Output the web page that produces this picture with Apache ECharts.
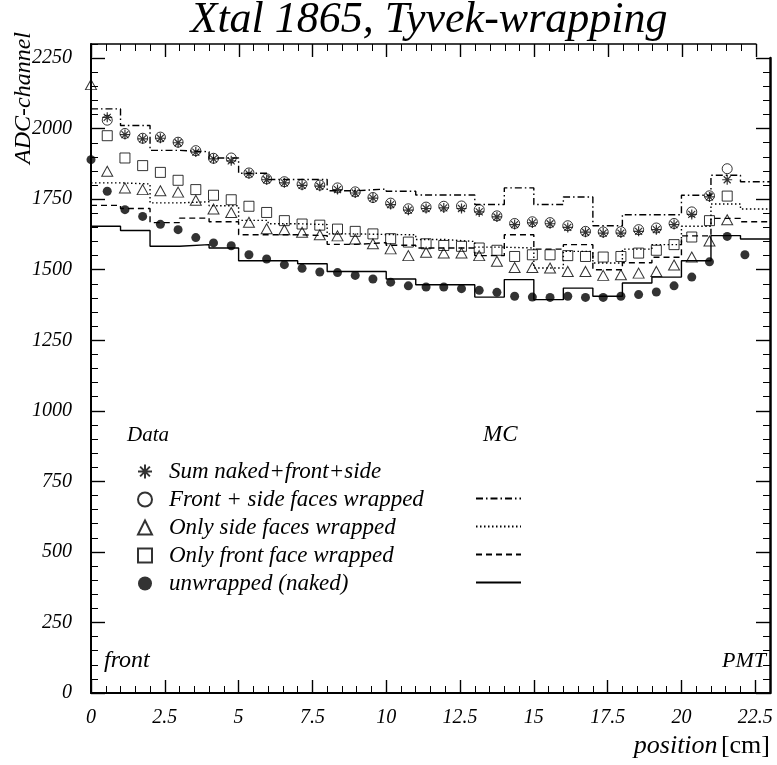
<!DOCTYPE html>
<html>
<head>
<meta charset="utf-8">
<script src="https://cdn.jsdelivr.net/npm/echarts@6/dist/echarts.min.js"></script>
<style>
  html, body { margin: 0; padding: 0; background: #fff; }
  #chart { width: 777px; height: 765px; }
</style>
</head>
<body>
<div id="chart"></div>
<script>
// measured positions along the crystal (cm)
const xPos = [0, 0.55, 1.15, 1.75, 2.35, 2.95, 3.55, 4.15, 4.75, 5.35, 5.95, 6.55, 7.15, 7.75,
  8.35, 8.95, 9.55, 10.15, 10.75, 11.35, 11.95, 12.55, 13.15, 13.75,
  14.35, 14.95, 15.55, 16.15, 16.75, 17.35, 17.95, 18.55, 19.15, 19.75,
  20.35, 20.95, 21.55, 22.15];

// data (ADC channel)
const sumData = [null, 2040, 1979, 1964, 1966, 1950, 1917, 1893, 1886, 1840, 1819, 1808, 1799, 1796,
  1784, 1772, 1754, 1731, 1711, 1717, 1719, 1717, 1705, 1687,
  1660, 1666, 1663, 1650, 1633, 1630, 1630, 1636, 1642, 1660,
  1696, 1758, 1819, null];
const frontSideData = [null, 2030, 1983, 1966, 1970, 1952, 1922, 1895, 1896, 1843, 1822, 1812, 1803, 1800,
  1790, 1776, 1756, 1736, 1716, 1722, 1725, 1726, 1713, 1691,
  1664, 1670, 1667, 1656, 1636, 1634, 1635, 1642, 1648, 1664,
  1705, 1762, 1858, null];
const sideData = [2156, 1849, 1790, 1784, 1780, 1775, 1746, 1715, 1703, 1668, 1645, 1642, 1633, 1624,
  1620, 1609, 1592, 1574, 1550, 1562, 1559, 1559, 1550, 1530,
  1508, 1508, 1506, 1494, 1494, 1480, 1482, 1488, 1494, 1517,
  1545, 1602, 1677, null];
const frontData = [null, 1975, 1896, 1869, 1845, 1817, 1784, 1764, 1748, 1725, 1703, 1674, 1662, 1658,
  1644, 1636, 1627, 1610, 1598, 1592, 1586, 1583, 1577, 1569,
  1547, 1553, 1553, 1550, 1547, 1545, 1547, 1559, 1569, 1589,
  1616, 1674, 1761, null];
const nakedData = [1890, 1778, 1713, 1689, 1661, 1642, 1614, 1595, 1585, 1553, 1538, 1518, 1505, 1492,
  1490, 1480, 1467, 1456, 1443, 1439, 1439, 1433, 1427, 1420,
  1406, 1403, 1402, 1406, 1402, 1402, 1406, 1412, 1421, 1443,
  1474, 1528, 1618, 1553];

// MC histograms, 1 cm bins
const binEdges = [0, 1, 2, 3, 4, 5, 6, 7, 8, 9, 10, 11, 12, 13, 14, 15, 16, 17, 18, 19, 20, 21, 22, 23];
const mcFrontSide = [2070, 2011, 1923, 1918, 1896, 1842, 1820, 1820, 1780, 1786, 1778, 1765, 1765, 1731,
  1790, 1731, 1758, 1656, 1695, 1695, 1764, 1835, 1812];
const mcSide = [1808, 1804, 1737, 1741, 1727, 1675, 1663, 1660, 1627, 1625, 1624, 1607, 1600, 1580,
  1577, 1506, 1565, 1524, 1573, 1589, 1654, 1733, 1715];
const mcFront = [1728, 1717, 1667, 1683, 1670, 1624, 1624, 1621, 1590, 1596, 1587, 1577, 1577, 1550,
  1624, 1573, 1589, 1500, 1525, 1544, 1620, 1682, 1670];
const mcNaked = [1654, 1639, 1583, 1589, 1577, 1532, 1532, 1521, 1494, 1494, 1467, 1447, 1447, 1403,
  1465, 1394, 1435, 1406, 1453, 1474, 1532, 1621, 1609];

const dataNames = ['Sum naked+front+side', 'Front + side faces wrapped', 'Only side faces wrapped',
  'Only front face wrapped', 'unwrapped (naked)'];
const mcNames = ['MC front + side', 'MC side', 'MC front', 'MC naked'];

const FONT = 'Liberation Serif';
const STAR = 'path://M5,0L5,10M0,5L10,5M1.5,1.5L8.5,8.5M8.5,1.5L1.5,8.5';

function points(vals) {
  return xPos.map((x, i) => vals[i] == null ? null : [x, vals[i]]).filter(p => p);
}
function steps(vals) {
  const p = vals.map((v, i) => [binEdges[i], v]);
  p.push([binEdges[vals.length], vals[vals.length - 1]]);
  return p;
}

const hollow = { color: 'rgba(0,0,0,0)', borderColor: '#000', borderWidth: 1 };
const lbl = { color: '#000', fontFamily: FONT, fontStyle: 'italic', fontSize: 20, formatter: v => String(v) };

// x axis: bottom one spans 0..23, the top one stops at 22.5 (own grid)
function xAx(grid, pos, max, interval, major, labels) {
  return {
    type: 'value', gridIndex: grid, position: pos, min: 0, max: max, interval: interval,
    axisLine: { show: major, onZero: false, lineStyle: { color: '#000', width: pos === 'bottom' ? 2 : 1.5 } },
    axisTick: { inside: true, length: major ? 13 : 7, lineStyle: { color: '#000', width: major ? 1.4 : 1 } },
    axisLabel: labels ? Object.assign({ showMaxLabel: false, margin: 15 }, lbl) : { show: false },
    splitLine: { show: false }
  };
}
// y axis: left one spans 0..2300, the right one stops at 2250 (own grid)
function yAx(grid, pos, max, interval, major, labels) {
  return {
    type: 'value', gridIndex: grid, position: pos, min: 0, max: max, interval: interval,
    axisLine: { show: major, onZero: false, lineStyle: { color: '#000', width: pos === 'left' ? 2 : 2.5 } },
    axisTick: { inside: true, length: major ? 14 : 7, lineStyle: { color: '#000', width: major ? 1.4 : 1 } },
    axisLabel: labels ? Object.assign({ showMaxLabel: false, margin: 19 }, lbl) : { show: false },
    splitLine: { show: false }
  };
}
const hiddenX = g => ({ type: 'value', gridIndex: g, min: 0, max: 23, show: false });
const hiddenY = g => ({ type: 'value', gridIndex: g, min: 0, max: 2300, show: false });

function mcLine(name, vals, type) {
  return {
    name: name, type: 'line', step: 'end', symbol: 'none', data: steps(vals),
    lineStyle: { color: '#000', width: 1.4, type: type }, itemStyle: { color: '#000' }
  };
}

const legendText = { color: '#000', fontFamily: FONT, fontStyle: 'italic', fontSize: 23 };

const chart = echarts.init(document.getElementById('chart'), null, { renderer: 'canvas' });
chart.setOption({
  animation: false,
  backgroundColor: '#fff',
  title: {
    text: 'Xtal 1865, Tyvek-wrapping', left: 424, top: -7, textAlign: 'center',
    textStyle: { fontFamily: FONT, fontStyle: 'italic', fontWeight: 'normal', fontSize: 44, color: '#000' }
  },
  grid: [
    { left: 91, right: 7, top: 44, bottom: 72 },
    { left: 91, right: 21, top: 44, bottom: 72 },
    { left: 91, right: 7, top: 58, bottom: 72 }
  ],
  xAxis: [
    xAx(0, 'bottom', 23, 2.5, true, true), xAx(0, 'bottom', 23, 0.5, false, false),
    xAx(1, 'top', 22.5, 2.5, true, false), xAx(1, 'top', 22.5, 0.5, false, false),
    hiddenX(2)
  ],
  yAxis: [
    yAx(0, 'left', 2300, 250, true, true), yAx(0, 'left', 2300, 50, false, false),
    hiddenY(1),
    yAx(2, 'right', 2250, 250, true, false), yAx(2, 'right', 2250, 50, false, false)
  ],
  legend: [
    {
      data: dataNames, orient: 'vertical', left: 137, top: 460, padding: 0,
      itemWidth: 14, itemHeight: 14, itemGap: 5, selectedMode: false,
      textStyle: Object.assign({ padding: [0, 0, 0, 12] }, legendText)
    },
    {
      data: mcNames, orient: 'vertical', left: 475, top: 487, padding: 0,
      itemWidth: 45, itemHeight: 14, itemGap: 5, selectedMode: false, formatter: () => ' ',
      itemStyle: { opacity: 0 },
      textStyle: legendText
    }
  ],
  graphic: [
    { type: 'text', x: 24, y: 98, rotation: Math.PI / 2,
      style: { text: 'ADC-channel', fill: '#000', font: 'italic 24px "Liberation Serif"', textAlign: 'center', textVerticalAlign: 'middle' } },
    { type: 'text', x: 770, y: 746,
      style: { text: '{a|position} {b|[cm]}', textAlign: 'right', textVerticalAlign: 'middle',
        rich: { a: { fill: '#000', font: 'italic 26px "Liberation Serif"' }, b: { fill: '#000', font: '26px "Liberation Serif"' } } } },
    { type: 'text', x: 127, y: 435,
      style: { text: 'Data', fill: '#000', font: 'italic 21px "Liberation Serif"', textVerticalAlign: 'middle' } },
    { type: 'text', x: 483, y: 435,
      style: { text: 'MC', fill: '#000', font: 'italic 23px "Liberation Serif"', textVerticalAlign: 'middle' } },
    { type: 'text', x: 104, y: 661,
      style: { text: 'front', fill: '#000', font: 'italic 24px "Liberation Serif"', textVerticalAlign: 'middle' } },
    { type: 'text', x: 766, y: 661,
      style: { text: 'PMT', fill: '#000', font: 'italic 22px "Liberation Serif"', textAlign: 'right', textVerticalAlign: 'middle' } }
  ],
  series: [
    mcLine(mcNames[0], mcFrontSide, [7, 3, 1.5, 3]),
    mcLine(mcNames[1], mcSide, [1.5, 2.5]),
    mcLine(mcNames[2], mcFront, [6, 4]),
    mcLine(mcNames[3], mcNaked, 'solid'),
    { name: dataNames[1], type: 'scatter', symbol: 'circle', symbolSize: 10, data: points(frontSideData), itemStyle: hollow },
    { name: dataNames[2], type: 'scatter', symbol: 'triangle', symbolSize: [11, 10], data: points(sideData), itemStyle: hollow },
    { name: dataNames[3], type: 'scatter', symbol: 'rect', symbolSize: 10, data: points(frontData), itemStyle: hollow },
    { name: dataNames[4], type: 'scatter', symbol: 'circle', symbolSize: 9, data: points(nakedData), itemStyle: { color: '#000' } },
    { name: dataNames[0], type: 'scatter', symbol: STAR, symbolSize: 10, data: points(sumData),
      itemStyle: { color: 'rgba(0,0,0,0)', borderColor: '#000', borderWidth: 1.2 } }
  ]
});
</script>
</body>
</html>
